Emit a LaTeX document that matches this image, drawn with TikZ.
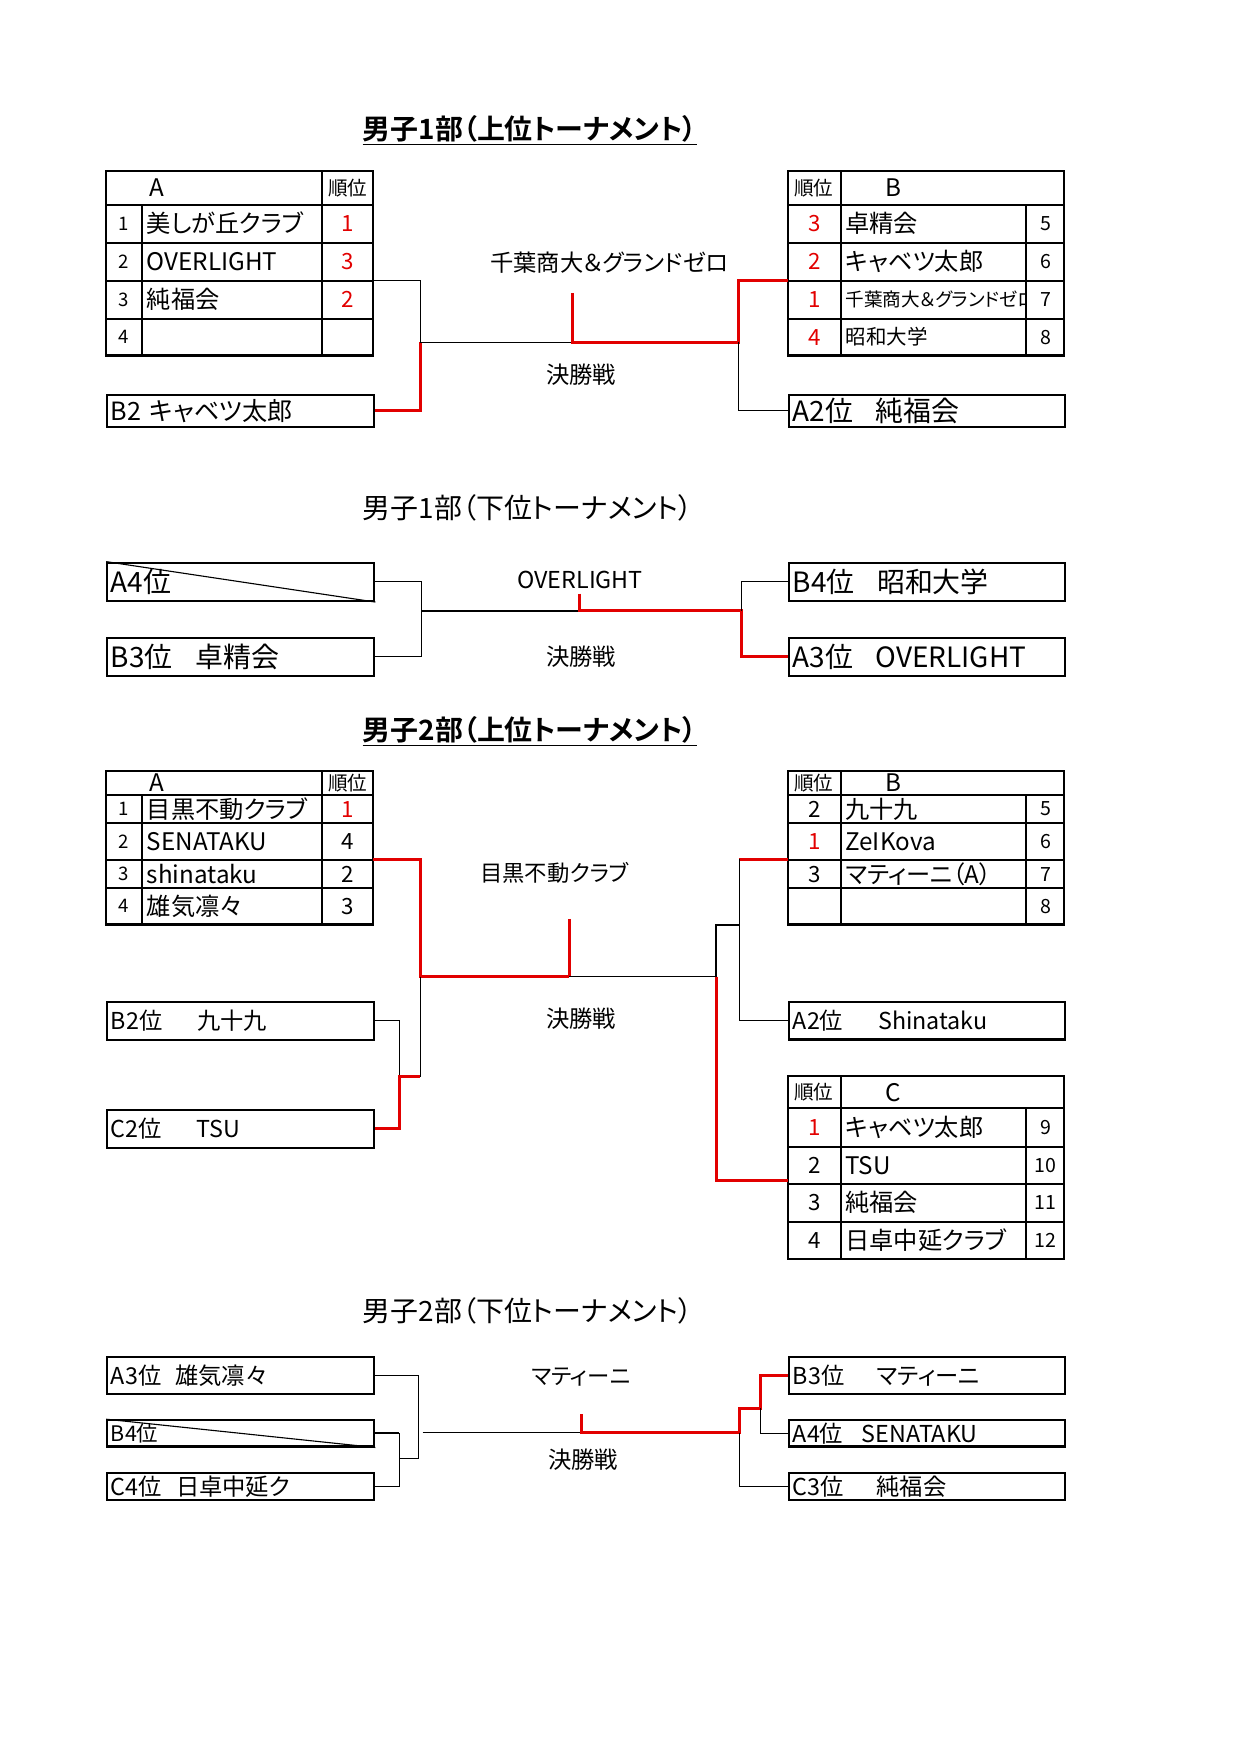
\documentclass[tikz,border=0pt]{standalone}
\usepackage{fontspec}
\setmainfont{Noto Sans CJK JP}[BoldFont={Noto Sans CJK JP Bold},RawFeature={+palt}]
\usetikzlibrary{positioning,calc}
\definecolor{winred}{RGB}{226,0,0}
\newcommand{\fsz}[1]{\fontsize{#1}{#1}\selectfont}

\begin{document}
\begin{tikzpicture}[x=0.6pt,y=-0.6pt,
	tbl/.style={line width=1.1pt},
	lnk/.style={line width=0.6pt},
	win/.style={winred,line width=1.6pt},
	lbox/.style={draw,line width=1.1pt,anchor=north west,inner xsep=2pt,inner ysep=0pt,text width=139.4pt,align=left},
	rbox/.style={lbox,text width=144.2pt},
	ttl/.style={anchor=base,inner sep=0pt,font=\bfseries\fsz{15}},
	sub/.style={anchor=base,inner sep=0pt,font=\fsz{15}},
	hd/.style={inner sep=0pt,font=\fsz{13}},
	jn/.style={inner sep=0pt,font=\fsz{10.5}},
	no/.style={inner sep=0pt,font=\fsz{10}},
	rk/.style={inner sep=0pt,font=\fsz{12}},
	pn/.style={inner sep=0pt,font=\fsz{10.5}},
	nm/.style={anchor=west,inner sep=0pt,font=\fsz{13}},
	mid/.style={inner sep=0pt,font=\fsz{12.5}},
	fin/.style={inner sep=0pt,font=\fsz{12.5}}]
	\useasboundingbox (0,0) rectangle (1109,1569);

	% 男子1部 上位
	\node[ttl] (u1t) at (474,124.6) {\underline{男子1部（上位トーナメント）}};

	\draw[tbl] (95,153) rectangle (334,318); % A
	\draw[tbl] (95,183) -- (334,183);
	\draw[tbl] (95,217) -- (334,217);
	\draw[tbl] (95,251) -- (334,251);
	\draw[tbl] (95,285) -- (334,285);
	\draw[tbl] (127,183) -- (127,318);
	\draw[tbl] (288,153) -- (288,318);
	\node[hd] (u1Ah) at (140,168) {A};
	\node[jn] (u1Aj) at (311,168) {順位};
	\node[no] (u1A1n) at (111,200) {1};
	\node[no] (u1A2n) at (111,234) {2};
	\node[no] (u1A3n) at (111,268) {3};
	\node[no] (u1A4n) at (111,301.5) {4};
	\node[nm] (u1A1) at (131,200) {美しが丘クラブ};
	\node[nm] (u1A2) at (131,234) {OVERLIGHT};
	\node[nm] (u1A3) at (131,268) {純福会};
	\node[rk,winred] (u1A1r) at (311,200) {1};
	\node[rk,winred] (u1A2r) at (311,234) {3};
	\node[rk,winred] (u1A3r) at (311,268) {2};

	\draw[tbl] (705,153) rectangle (952,318); % B
	\draw[tbl] (705,183) -- (952,183);
	\draw[tbl] (705,217) -- (952,217);
	\draw[tbl] (705,251) -- (952,251);
	\draw[tbl] (705,285) -- (952,285);
	\draw[tbl] (752,153) -- (752,318);
	\draw[tbl] (918,183) -- (918,318);
	\node[jn] (u1Bj) at (728,168) {順位};
	\node[hd] (u1Bh) at (799,168) {B};
	\node[rk,winred] (u1B1r) at (728.5,200) {3};
	\node[rk,winred] (u1B2r) at (728.5,234) {2};
	\node[rk,winred] (u1B3r) at (728.5,268) {1};
	\node[rk,winred] (u1B4r) at (728.5,301.5) {4};
	\node[nm] (u1B1) at (756,200) {卓精会};
	\node[nm] (u1B2) at (756,234) {キャベツ太郎};
	\begin{scope}
		\clip (752,251) rectangle (918,285);
		\node[nm,font=\fsz{10}] (u1B3) at (756,268) {千葉商大＆グランドゼロ};
	\end{scope}
	\node[nm,font=\fsz{11}] (u1B4) at (756,301.5) {昭和大学};
	\node[pn] (u1B1p) at (935.5,200) {5};
	\node[pn] (u1B2p) at (935.5,234) {6};
	\node[pn] (u1B3p) at (935.5,268) {7};
	\node[pn] (u1B4p) at (935.5,301.5) {8};

	\node[lbox,minimum height=17.6pt,font=\fsz{13.5}] (u1B2x) at (95,352) {B2 キャベツ太郎};
	\node[rbox,minimum height=17.6pt,font=\fsz{15}] (u1A2x) at (705,352) {A2位\hspace{.8em}純福会};

	\coordinate (u1pA) at (334,251);
	\coordinate (u1pB) at (705,251);
	\coordinate (u1j) at (376,306);
	\coordinate (u1f) at (512,262);
	\coordinate (u1w) at (512,306);
	\coordinate (u1k) at (660.5,306);
	\draw[lnk] (u1pA) -| (u1j);
	\draw[win] (u1B2x.east) -| (u1j);
	\draw[lnk] (u1j) -- (u1w);
	\draw[win] (u1f) -- (u1w) -- (u1k) |- (u1pB);
	\draw[lnk] (u1k) |- (u1A2x.west);

	\node[mid] (u1c) at (545,235) {千葉商大＆グランドゼロ};
	\node[fin] (u1d) at (520,335) {決勝戦};

	% 男子1部 下位
	\node[sub] (l1t) at (472,463.6) {男子1部（下位トーナメント）};

	\node[lbox,minimum height=20.6pt,font=\fsz{15}] (l1A4) at (95,502.4) {A4位};
	\draw[lnk] (l1A4.north west) -- (l1A4.south east);
	\node[lbox,minimum height=20.6pt,font=\fsz{15}] (l1B3) at (95,569.5) {B3位\hspace{.8em}卓精会};
	\node[rbox,minimum height=20.6pt,font=\fsz{15}] (l1B4) at (705,502.4) {B4位\hspace{.8em}昭和大学};
	\node[rbox,minimum height=20.6pt,font=\fsz{15}] (l1A3) at (705,569.5) {A3位\hspace{.8em}OVERLIGHT};

	\coordinate (l1j) at (377,546.5);
	\coordinate (l1f) at (518,531);
	\coordinate (l1w) at (518,546.5);
	\coordinate (l1k) at (663,546.5);
	\draw[lnk] (l1A4.east) -| (l1j);
	\draw[lnk] (l1B3.east) -| (l1j);
	\draw[lnk] (l1j) -- (l1w);
	\draw[win] (l1f) -- (l1w) -- (l1k) |- (l1A3.west);
	\draw[lnk] (l1k) |- (l1B4.west);

	\node[mid] (l1c) at (519,519) {OVERLIGHT};
	\node[fin] (l1d) at (520,587.4) {決勝戦};

	% 男子2部 上位
	\node[ttl] (u2t) at (474,662) {\underline{男子2部（上位トーナメント）}};

	\draw[tbl] (95,689.6) rectangle (334,827); % A
	\draw[tbl] (95,711.5) -- (334,711.5);
	\draw[tbl] (95,736) -- (334,736);
	\draw[tbl] (95,769.5) -- (334,769.5);
	\draw[tbl] (95,794.5) -- (334,794.5);
	\draw[tbl] (127,711.5) -- (127,827);
	\draw[tbl] (288,689.6) -- (288,827);
	\node[hd] (u2Ah) at (140,700.5) {A};
	\node[jn] (u2Aj) at (311,700.5) {順位};
	\node[no] (u2A1n) at (111,723.7) {1};
	\node[no] (u2A2n) at (111,752.7) {2};
	\node[no] (u2A3n) at (111,782) {3};
	\node[no] (u2A4n) at (111,810.7) {4};
	\node[nm] (u2A1) at (131,723.7) {目黒不動クラブ};
	\node[nm] (u2A2) at (131,752.7) {SENATAKU};
	\node[nm] (u2A3) at (131,782) {shinataku};
	\node[nm] (u2A4) at (131,810.7) {雄気凛々};
	\node[rk,winred] (u2A1r) at (311,723.7) {1};
	\node[rk] (u2A2r) at (311,752.7) {4};
	\node[rk] (u2A3r) at (311,782) {2};
	\node[rk] (u2A4r) at (311,810.7) {3};

	\draw[tbl] (705,689.6) rectangle (952,827); % B
	\draw[tbl] (705,711.5) -- (952,711.5);
	\draw[tbl] (705,736) -- (952,736);
	\draw[tbl] (705,769.5) -- (952,769.5);
	\draw[tbl] (705,794.5) -- (952,794.5);
	\draw[tbl] (752,689.6) -- (752,827);
	\draw[tbl] (918,711.5) -- (918,827);
	\node[jn] (u2Bj) at (728,700.5) {順位};
	\node[hd] (u2Bh) at (799,700.5) {B};
	\node[rk] (u2B1r) at (728.5,723.7) {2};
	\node[rk,winred] (u2B2r) at (728.5,752.7) {1};
	\node[rk] (u2B3r) at (728.5,782) {3};
	\node[nm] (u2B1) at (756,723.7) {九十九};
	\node[nm] (u2B2) at (756,752.7) {ZeIKova};
	\node[nm] (u2B3) at (756,782) {マティーニ（A）};
	\node[pn] (u2B1p) at (935.5,723.7) {5};
	\node[pn] (u2B2p) at (935.5,752.7) {6};
	\node[pn] (u2B3p) at (935.5,782) {7};
	\node[pn] (u2B4p) at (935.5,810.7) {8};

	\draw[tbl] (705,962.4) rectangle (952,1126.4); % C
	\draw[tbl] (705,991.4) -- (952,991.4);
	\draw[tbl] (705,1025.6) -- (952,1025.6);
	\draw[tbl] (705,1059) -- (952,1059);
	\draw[tbl] (705,1092.7) -- (952,1092.7);
	\draw[tbl] (752,962.4) -- (752,1126.4);
	\draw[tbl] (918,991.4) -- (918,1126.4);
	\node[jn] (u2Cj) at (728,977) {順位};
	\node[hd] (u2Ch) at (799,977) {C};
	\node[rk,winred] (u2C1r) at (728.5,1008.5) {1};
	\node[rk] (u2C2r) at (728.5,1042.3) {2};
	\node[rk] (u2C3r) at (728.5,1075.9) {3};
	\node[rk] (u2C4r) at (728.5,1109.6) {4};
	\node[nm] (u2C1) at (756,1008.5) {キャベツ太郎};
	\node[nm] (u2C2) at (756,1042.3) {TSU};
	\node[nm] (u2C3) at (756,1075.9) {純福会};
	\node[nm] (u2C4) at (756,1109.6) {日卓中延クラブ};
	\node[pn] (u2C1p) at (935.5,1008.5) {9};
	\node[pn] (u2C2p) at (935.5,1042.3) {10};
	\node[pn] (u2C3p) at (935.5,1075.9) {11};
	\node[pn] (u2C4p) at (935.5,1109.6) {12};

	\node[lbox,minimum height=20.3pt,font=\fsz{12.5}] (u2B2x) at (95,895.3) {B2位\hspace{1.5em}九十九};
	\node[lbox,minimum height=20.3pt,font=\fsz{12.5}] (u2C2x) at (95,992) {C2位\hspace{1.5em}TSU};
	\node[rbox,minimum height=20.3pt,font=\fsz{12.5}] (u2A2x) at (705,895.1) {A2位\hspace{1.5em}Shinataku};

	\coordinate (u2pA) at (334,769);
	\coordinate (u2j) at (376,873.6);
	\coordinate (u2f) at (509.4,822);
	\coordinate (u2w) at (509.4,873.6);
	\coordinate (u2g) at (376,963);
	\coordinate (u2h) at (357,963);
	\coordinate (u2k) at (640.5,873.6);
	\coordinate (u2m) at (640.5,827.4);
	\coordinate (u2n) at (661.3,827.4);
	\coordinate (u2q) at (661.3,768.5);
	\coordinate (u2pB) at (705,768.5);
	\coordinate (u2pC) at (705,1056);
	\draw[win] (u2pA) -| (u2j) -- (u2w);
	\draw[win] (u2f) -- (u2w);
	\draw[lnk] (u2j) -- (u2g);
	\draw[lnk] (u2B2x.east) -| (u2h);
	\draw[win] (u2C2x.east) -| (u2h) -- (u2g);
	\draw[lnk] (u2w) -- (u2k) -- (u2m) -- (u2n);
	\draw[win] (u2k) |- (u2pC);
	\draw[win] (u2pB) -- (u2q);
	\draw[lnk] (u2q) |- (u2A2x.west);

	\node[mid,font=\fsz{12}] (u2c) at (496,781) {目黒不動クラブ};
	\node[fin] (u2d) at (520,911) {決勝戦};

	% 男子2部 下位
	\node[sub] (l2t) at (472,1182) {男子2部（下位トーナメント）};

	\node[lbox,minimum height=20pt,font=\fsz{12.5}] (l2A3) at (95,1212.9) {A3位\hspace{.6em}雄気凛々};
	\node[lbox,minimum height=14.1pt,font=\fsz{11.5}] (l2B4) at (95,1269.5) {B4位};
	\draw[lnk] (l2B4.north west) -- (l2B4.south east);
	\node[lbox,minimum height=14.7pt,font=\fsz{12.5}] (l2C4) at (95,1316.3) {C4位\hspace{.6em}日卓中延ク};
	\node[rbox,minimum height=20pt,font=\fsz{12.5}] (l2B3) at (705,1212.9) {B3位\hspace{1.4em}マティーニ};
	\node[rbox,minimum height=14.1pt,font=\fsz{12.5}] (l2A4) at (705,1269.5) {A4位\hspace{.8em}SENATAKU};
	\node[rbox,minimum height=14.7pt,font=\fsz{12.5}] (l2C3) at (705,1316.3) {C3位\hspace{1.4em}純福会};

	\coordinate (l2j) at (374.6,1304.4);
	\coordinate (l2h) at (357,1304.4);
	\coordinate (l2m) at (378,1281.5);
	\coordinate (l2f) at (520.2,1265);
	\coordinate (l2w) at (520.2,1281.5);
	\coordinate (l2k) at (661.4,1281.5);
	\coordinate (l2r) at (661.4,1259.7);
	\coordinate (l2s) at (680.2,1259.7);
	\draw[lnk] (l2A3.east) -| (l2j);
	\draw[tbl] (l2B4.east) -- (l2B4.east -| l2h);
	\draw[lnk] (l2B4.east -| l2h) |- (l2C4.east);
	\draw[lnk] (l2h) -- (l2j);
	\draw[lnk] (l2m) -- (l2w);
	\draw[win] (l2f) -- (l2w) -- (l2k) -- (l2r) -- (l2s) |- (l2B3.west);
	\draw[lnk] (l2s) |- (l2A4.west);
	\draw[lnk] (l2k) |- (l2C3.west);

	\node[mid,font=\fsz{12}] (l2c) at (519.6,1231.4) {マティーニ};
	\node[fin] (l2d) at (521.8,1306) {決勝戦};

\end{tikzpicture}
\end{document}
